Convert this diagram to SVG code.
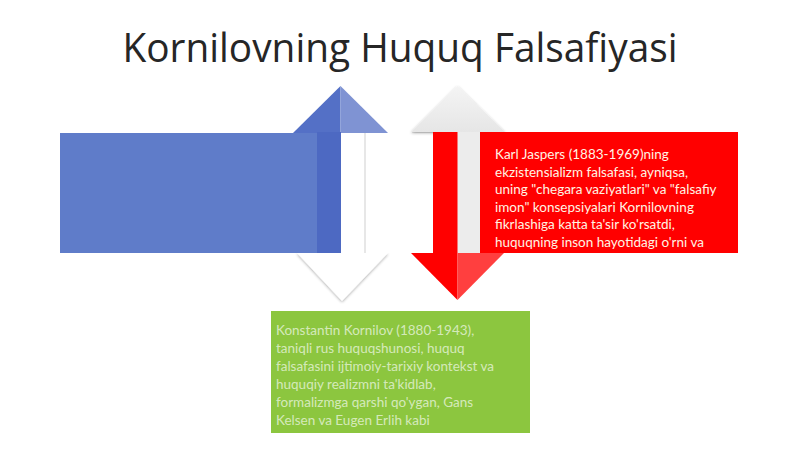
<svg xmlns="http://www.w3.org/2000/svg" width="800" height="449" viewBox="0 0 800 449">
  <defs>
    <filter id="sh" x="-20%" y="-20%" width="140%" height="140%">
      <feGaussianBlur in="SourceAlpha" stdDeviation="1.5"/>
      <feOffset dx="0" dy="1" result="b"/>
      <feComponentTransfer><feFuncA type="linear" slope="0.35"/></feComponentTransfer>
      <feMerge><feMergeNode/><feMergeNode in="SourceGraphic"/></feMerge>
    </filter>
    <linearGradient id="gray" x1="0" y1="0" x2="0" y2="1">
      <stop offset="0" stop-color="#f4f4f4"/>
      <stop offset="1" stop-color="#e6e6e6"/>
    </linearGradient>
  </defs>
  <style>
    .title { font-family: "Open Sans", "Liberation Sans", sans-serif; font-size: 41px; fill: #262626; }
    .rtxt { font-family: "Lato", "Liberation Sans", sans-serif; font-size: 13.5px; fill: #fff4e4; }
    .gtxt { font-family: "Lato", "Liberation Sans", sans-serif; font-size: 13.5px; fill: #ffffff; fill-opacity: 0.65; }
  </style>
  <rect width="800" height="449" fill="#ffffff"/>

  <g id="title">
    <text class="title" x="400" y="62" text-anchor="middle" textLength="555" lengthAdjust="spacingAndGlyphs">Kornilovning Huquq Falsafiyasi</text>
  </g>

  <g id="arrows">
    <g id="white-down-arrow">
      <polygon points="297,253 388,253 342,301" fill="#ffffff" filter="url(#sh)"/>
      <rect x="340" y="132" width="70" height="121" fill="#ffffff"/>
      <line x1="365" y1="132" x2="365" y2="253" stroke="#cfcfcf" stroke-width="1"/>
      <line x1="412" y1="132" x2="433" y2="132" stroke="#d8d8d8" stroke-width="1"/>
    </g>
    <g id="blue-up-arrow">
      <polygon points="293,133 340.5,86 340.5,133" fill="#5470c6"/>
      <polygon points="340.5,86 388,133 340.5,133" fill="#7f93d3"/>
      <rect x="317" y="132" width="24" height="121" fill="#4d69c2"/>
    </g>
    <g id="gray-up-arrow">
      <polygon points="411,132 457.5,86 505,132" fill="url(#gray)" filter="url(#sh)"/>
      <rect x="457" y="132" width="24" height="121" fill="#ececec"/>
    </g>
    <g id="red-down-arrow">
      <rect x="433" y="132" width="24.5" height="121" fill="#ff0000"/>
      <polygon points="411,253 457.5,253 457.5,300" fill="#ff0000"/>
      <polygon points="457.5,253 504,253 457.5,300" fill="#ff3f3f"/>
    </g>
  </g>

  <g id="node-blue">
    <rect x="60" y="133" width="257" height="120" fill="#5f7cc9"/>
  </g>

  <g id="node-red">
    <rect x="480" y="132" width="258" height="121" fill="#ff0000"/>
    <text class="rtxt">
      <tspan x="495" y="159">Karl Jaspers (1883-1969)ning</tspan>
      <tspan x="495" y="176.5">ekzistensializm falsafasi, ayniqsa,</tspan>
      <tspan x="495" y="194">uning "chegara vaziyatlari" va "falsafiy</tspan>
      <tspan x="495" y="211.5">imon" konsepsiyalari Kornilovning</tspan>
      <tspan x="495" y="229">fikrlashiga katta ta'sir ko'rsatdi,</tspan>
      <tspan x="495" y="246.5">huquqning inson hayotidagi o'rni va</tspan>
    </text>
  </g>

  <g id="node-green">
    <rect x="271" y="311" width="259" height="122" fill="#8cc63f"/>
    <text class="gtxt">
      <tspan x="276" y="335">Konstantin Kornilov (1880-1943),</tspan>
      <tspan x="276" y="353">taniqli rus huquqshunosi, huquq</tspan>
      <tspan x="276" y="371">falsafasini ijtimoiy-tarixiy kontekst va</tspan>
      <tspan x="276" y="389">huquqiy realizmni ta'kidlab,</tspan>
      <tspan x="276" y="407">formalizmga qarshi qo'ygan, Gans</tspan>
      <tspan x="276" y="425">Kelsen va Eugen Erlih kabi</tspan>
    </text>
  </g>
</svg>
